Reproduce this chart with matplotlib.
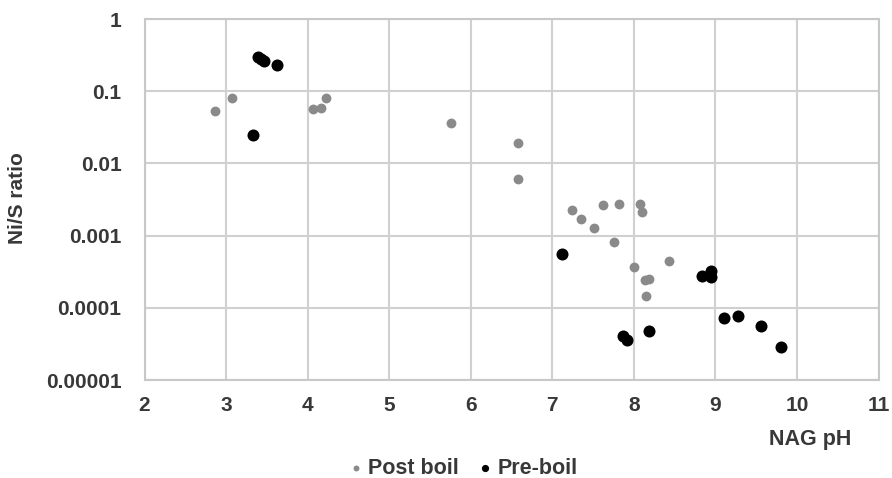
import matplotlib.pyplot as plt
from matplotlib.ticker import FixedLocator, FixedFormatter

plt.rcParams['font.family'] = ['Liberation Sans', 'DejaVu Sans']

# post boil samples
post_ph = [2.87, 3.07, 4.06, 4.16, 4.22, 5.76, 6.58, 6.58, 7.24, 7.35, 7.51, 7.62,
           7.82, 7.76, 8.08, 8.10, 8.00, 8.13, 8.19, 8.15, 8.43]
post_ratio = [0.054, 0.082, 0.056, 0.059, 0.082, 0.036, 0.019, 0.0061, 0.00226, 0.0017,
              0.00128, 0.00263, 0.00276, 0.00082, 0.00276, 0.00214, 0.00037, 0.00024,
              0.00025, 0.000145, 0.00044]

# pre-boil samples
pre_ph = [3.39, 3.43, 3.46, 3.62, 3.33, 7.12, 8.83, 8.95, 8.95, 9.11, 9.28, 9.555,
          9.80, 7.87, 7.91, 8.19]
pre_ratio = [0.30, 0.28, 0.26, 0.228, 0.025, 0.00056, 0.000275, 0.00032, 0.00027,
             0.0000716, 0.000076, 0.0000563, 0.0000288, 0.0000409, 0.0000357, 0.000047]

y_ticks = [1, 0.1, 0.01, 0.001, 0.0001, 0.00001]
y_labels = ['1', '0.1', '0.01', '0.001', '0.0001', '0.00001']
x_ticks = list(range(2, 12))

txt_col = '#383838'

fig = plt.figure(figsize=(8.92, 4.78), dpi=100)
ax = fig.add_axes([0.162, 0.205, 0.823, 0.755])

ax.scatter(post_ph, post_ratio, s=50, color='#8a8a8a', label='Post boil', zorder=3, linewidths=0)
ax.scatter(pre_ph, pre_ratio, s=75, color='black', label='Pre-boil', zorder=3, linewidths=0)

ax.set_yscale('log')
ax.set_xlim(2, 11)
ax.set_ylim(0.00001, 1)
ax.yaxis.set_major_locator(FixedLocator(y_ticks))
ax.yaxis.set_major_formatter(FixedFormatter(y_labels))
ax.yaxis.set_minor_locator(FixedLocator([]))
ax.set_xticks(x_ticks)

ax.grid(True, color='#d0d0d0', linewidth=1.5)
ax.set_axisbelow(True)
for sp in ax.spines.values():
    sp.set_color('#c8c8c8')
    sp.set_linewidth(1.5)

ax.tick_params(length=0, labelsize=15, labelcolor=txt_col)
ax.tick_params(axis='x', pad=11.5)
ax.tick_params(axis='y', pad=16.5)
for lab in ax.get_xticklabels() + ax.get_yticklabels():
    lab.set_fontweight('bold')

fig.text(810.5 / 892, 1 - 440 / 478, 'NAG pH', ha='center', va='center', fontsize=15.5,
         fontweight='bold', color=txt_col)
fig.text(18 / 892, 1 - 198 / 478, 'Ni/S ratio', ha='center', va='center', rotation=90,
         fontsize=15, fontweight='bold', color=txt_col)

leg = fig.legend(loc='center', bbox_to_anchor=(0.520, 0.02), ncol=2, frameon=False,
                 handlelength=0.5, handletextpad=0.3, columnspacing=1.0, markerscale=0.6,
                 prop={'weight': 'bold', 'size': 15.5})
for t in leg.get_texts():
    t.set_color(txt_col)

fig.savefig('out.png', dpi=100)
